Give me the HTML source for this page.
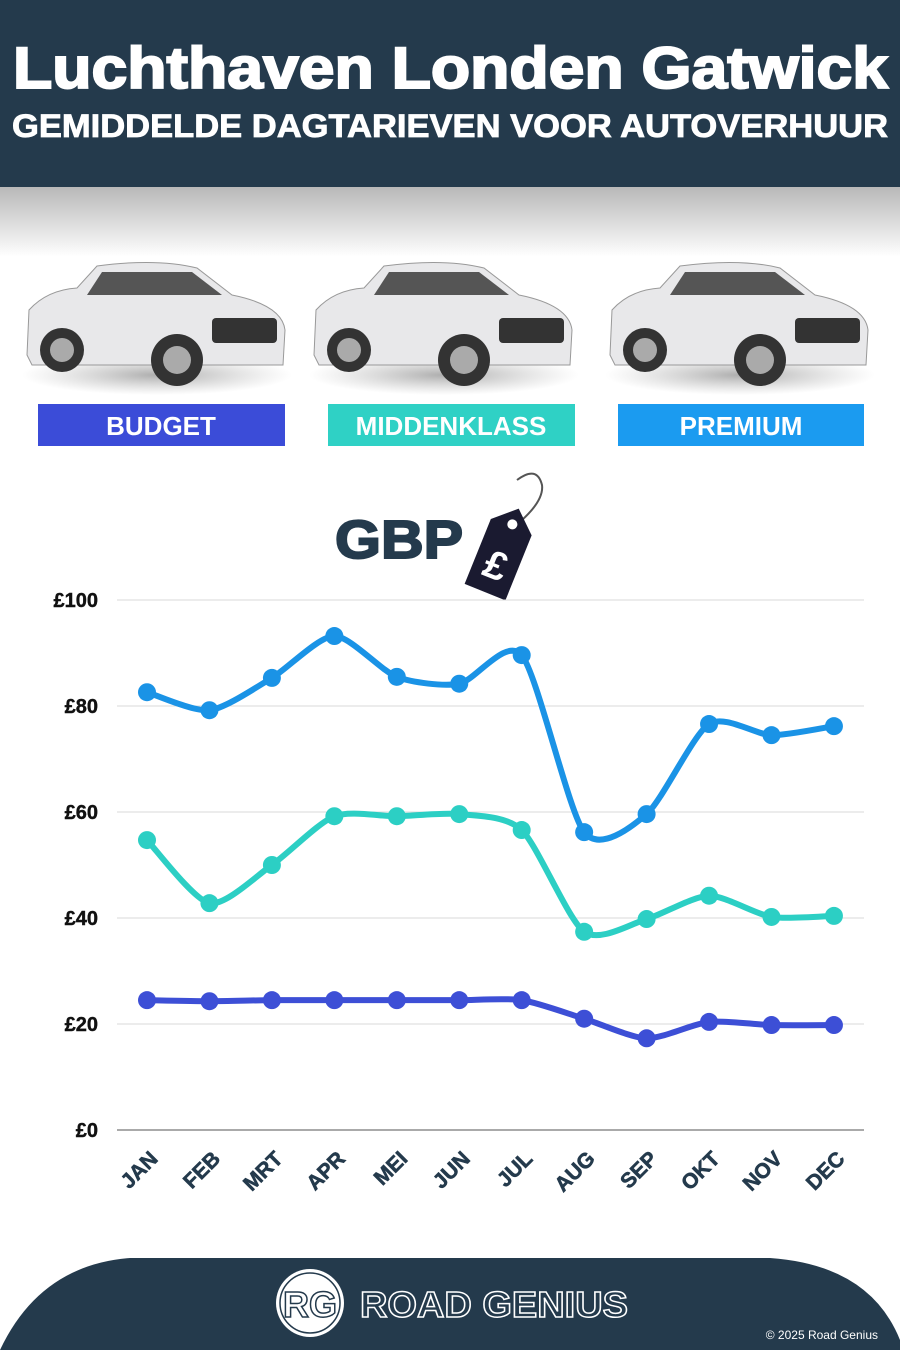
<!DOCTYPE html>
<html><head><meta charset="utf-8"><style>
body{margin:0;width:900px;height:1350px;overflow:hidden;background:#fff;font-family:"Liberation Sans",sans-serif}
</style></head><body>
<svg id="s" width="900" height="1350" viewBox="0 0 900 1350" xmlns="http://www.w3.org/2000/svg">
<defs>
<linearGradient id="g1" x1="0" y1="0" x2="0" y2="1"><stop offset="0" stop-color="#b8b8b8"/><stop offset="1" stop-color="#fff"/></linearGradient>
<radialGradient id="sh"><stop offset="0" stop-color="#777" stop-opacity=".6"/><stop offset="1" stop-color="#999" stop-opacity="0"/></radialGradient>
</defs>
<rect x="0" y="0" width="900" height="187" fill="#243a4c"/>
<rect x="0" y="187" width="900" height="70" fill="url(#g1)"/>
<text x="13" y="88" textLength="875" lengthAdjust="spacingAndGlyphs" font-size="58" font-weight="bold" fill="#fff" stroke="#fff" stroke-width="2">Luchthaven Londen Gatwick</text>
<text x="12" y="137" textLength="876" lengthAdjust="spacingAndGlyphs" font-size="32" font-weight="bold" fill="#fff" stroke="#fff" stroke-width="0.8">GEMIDDELDE DAGTARIEVEN VOOR AUTOVERHUUR</text>
<g id="cars"></g>
<rect x="38" y="404" width="247" height="42" fill="#3b4cd8"/>
<text x="161" y="435" text-anchor="middle" font-size="26" font-weight="bold" fill="#fff">BUDGET</text>
<rect x="328" y="404" width="247" height="42" fill="#2fd1c5"/>
<text x="451" y="435" text-anchor="middle" font-size="26" font-weight="bold" fill="#fff">MIDDENKLASS</text>
<rect x="618" y="404" width="246" height="42" fill="#1b9bf0"/>
<text x="741" y="435" text-anchor="middle" font-size="26" font-weight="bold" fill="#fff">PREMIUM</text>
<text x="335" y="558" textLength="128" lengthAdjust="spacingAndGlyphs" font-size="54" font-weight="bold" fill="#243a4c" stroke="#243a4c" stroke-width="2">GBP</text>
<path d="M517 480 q20 -15 25 5 q2 15 -20 35" fill="none" stroke="#555" stroke-width="2"/>
<g transform="rotate(22 500 555)"><path d="M478 525 L500 505 L522 525 L522 595 L478 595 Z" fill="#1a1a30"/><circle cx="500" cy="522" r="5" fill="#fff"/><text x="500" y="580" text-anchor="middle" font-size="40" font-weight="bold" fill="#fff">£</text></g>
<g id="chart"></g>
<path d="M0 1350 Q40 1265 130 1258 L770 1258 Q870 1265 900 1340 L900 1350 Z" fill="#243a4c"/>
<circle cx="310" cy="1303" r="34" fill="#fff"/><circle cx="310" cy="1303" r="30" fill="none" stroke="#243a4c" stroke-width="1.5"/>
<text x="310" y="1317" text-anchor="middle" font-size="36" font-weight="bold" fill="#fff" stroke="#243a4c" stroke-width="1.5">RG</text>
<text x="360" y="1317" textLength="268" lengthAdjust="spacingAndGlyphs" font-size="36" font-weight="bold" fill="#243a4c" stroke="#fff" stroke-width="1.5">ROAD GENIUS</text>
<text x="878" y="1339" text-anchor="end" font-size="12" fill="#fff">© 2025 Road Genius</text>
</svg>
<script>
var ch=document.getElementById('chart'),h='';
var y0=1130,k=5.3;
[0,20,40,60,80,100].forEach(function(v){var y=y0-v*k;h+='<line x1="117" x2="864" y1="'+y+'" y2="'+y+'" stroke="'+(v?'#d8d8d8':'#555')+'" stroke-width="1"/>';h+='<text x="98" y="'+(y+7)+'" text-anchor="end" font-size="20" font-weight="bold" fill="#111" stroke="#111" stroke-width="0.4">£'+v+'</text>';});
var m=['JAN','FEB','MRT','APR','MEI','JUN','JUL','AUG','SEP','OKT','NOV','DEC'];
function X(i){return 147+i*62.45}
m.forEach(function(t,i){h+='<text transform="translate('+(X(i)+12)+',1160) rotate(-45)" text-anchor="end" font-size="21" font-weight="bold" fill="#243a4c" stroke="#243a4c" stroke-width="0.6">'+t+'</text>';});
var S=[['#1a93e6',[82.6,79.2,85.3,93.2,85.5,84.2,89.6,56.2,59.6,76.6,74.5,76.2]],
['#2ccfc4',[54.7,42.8,50,59.2,59.2,59.6,56.6,37.4,39.8,44.2,40.2,40.4]],
['#3d4fd6',[24.5,24.3,24.5,24.5,24.5,24.5,24.5,21,17.3,20.4,19.8,19.8]]];
S.forEach(function(s){var p=s[1].map(function(v,i){return [X(i),y0-v*k]});var d='M'+p[0];
var t=8;
for(var i=0;i<p.length-1;i++){var a=p[i-1]||p[i],b=p[i],c=p[i+1],e=p[i+2]||c;
d+=' C'+(b[0]+(c[0]-a[0])/t)+','+(b[1]+(c[1]-a[1])/t)+' '+(c[0]-(e[0]-b[0])/t)+','+(c[1]-(e[1]-b[1])/t)+' '+c;}
h+='<path d="'+d+'" fill="none" stroke="'+s[0]+'" stroke-width="6"/>';
p.forEach(function(q){h+='<circle cx="'+q[0]+'" cy="'+q[1]+'" r="9" fill="'+s[0]+'"/>'});});
ch.innerHTML=h;
var c='';[157,444,740].forEach(function(x){
c+='<ellipse cx="'+x+'" cy="375" rx="135" ry="20" fill="url(#sh)"/>';
c+='<path d="M'+(x-130)+' 355 L'+(x-128)+' 310 Q'+(x-110)+' 290 '+(x-80)+' 288 L'+(x-60)+' 266 Q'+(x)+' 258 '+(x+40)+' 268 L'+(x+75)+' 295 Q'+(x+125)+' 305 '+(x+128)+' 330 L'+(x+126)+' 365 L'+(x-125)+' 365 Z" fill="#e8e8ea" stroke="#999"/>';
c+='<path d="M'+(x-55)+' 272 L'+(x+35)+' 272 L'+(x+65)+' 295 L'+(x-70)+' 295 Z" fill="#555"/>';
c+='<rect x="'+(x+55)+'" y="318" width="65" height="25" rx="4" fill="#333"/>';
c+='<circle cx="'+(x-95)+'" cy="350" r="22" fill="#333"/><circle cx="'+(x-95)+'" cy="350" r="12" fill="#aaa"/>';
c+='<circle cx="'+(x+20)+'" cy="360" r="26" fill="#333"/><circle cx="'+(x+20)+'" cy="360" r="14" fill="#aaa"/>';});
document.getElementById('cars').innerHTML=c;
</script>
</body></html>
